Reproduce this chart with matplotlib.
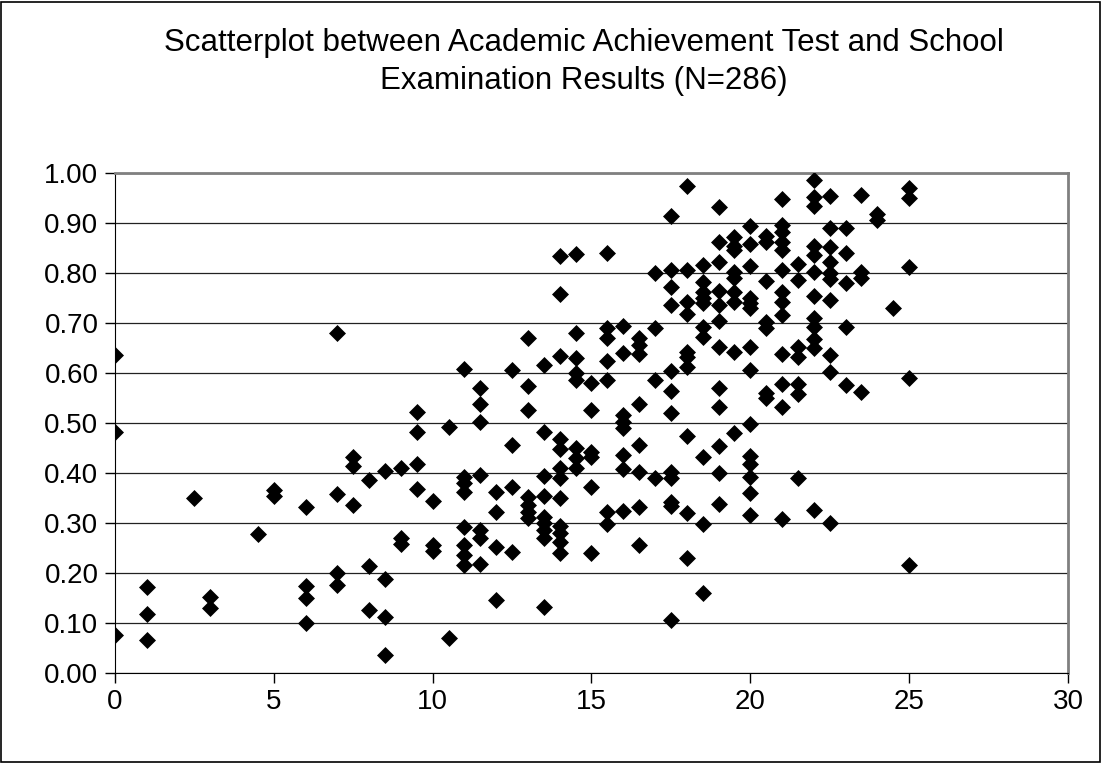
import matplotlib.pyplot as plt
from matplotlib.patches import Rectangle

# academic achievement test score (x) and school examination result (y)
test_scores = [
    0, 0, 0,
    1, 1, 1,
    2.5,
    3, 3,
    4.5,
    5, 5,
    6, 6, 6, 6,
    7, 7, 7, 7,
    7.5, 7.5, 7.5,
    8, 8, 8,
    8.5, 8.5, 8.5, 8.5,
    9, 9, 9,
    9.5, 9.5, 9.5, 9.5,
    10, 10, 10,
    10.5, 10.5,
    11, 11, 11, 11, 11, 11, 11, 11,
    11.5, 11.5, 11.5, 11.5, 11.5, 11.5, 11.5,
    12, 12, 12, 12,
    12.5, 12.5, 12.5, 12.5,
    13, 13, 13, 13, 13, 13, 13,
    13.5, 13.5, 13.5, 13.5, 13.5, 13.5, 13.5, 13.5, 13.5,
    14, 14, 14, 14, 14, 14, 14, 14, 14, 14, 14, 14,
    14.5, 14.5, 14.5, 14.5, 14.5, 14.5, 14.5, 14.5,
    15, 15, 15, 15, 15, 15,
    15.5, 15.5, 15.5, 15.5, 15.5, 15.5, 15.5,
    16, 16, 16, 16, 16, 16, 16, 16,
    16.5, 16.5, 16.5, 16.5, 16.5, 16.5, 16.5, 16.5,
    17, 17, 17, 17,
    17.5, 17.5, 17.5, 17.5, 17.5, 17.5, 17.5, 17.5, 17.5, 17.5, 17.5, 17.5,
    18, 18, 18, 18, 18, 18, 18, 18, 18, 18,
    18.5, 18.5, 18.5, 18.5, 18.5, 18.5, 18.5, 18.5, 18.5, 18.5,
    19, 19, 19, 19, 19, 19, 19, 19, 19, 19, 19, 19,
    19.5, 19.5, 19.5, 19.5, 19.5, 19.5, 19.5, 19.5, 19.5,
    20, 20, 20, 20, 20, 20, 20, 20, 20, 20, 20, 20, 20, 20,
    20.5, 20.5, 20.5, 20.5, 20.5, 20.5, 20.5,
    21, 21, 21, 21, 21, 21, 21, 21, 21, 21, 21, 21, 21,
    21.5, 21.5, 21.5, 21.5, 21.5, 21.5, 21.5,
    22, 22, 22, 22, 22, 22, 22, 22, 22, 22, 22, 22,
    22.5, 22.5, 22.5, 22.5, 22.5, 22.5, 22.5, 22.5, 22.5, 22.5,
    23, 23, 23, 23, 23,
    23.5, 23.5, 23.5, 23.5,
    24, 24,
    24.5,
    25, 25, 25, 25, 25,
]

exam_results = [
    0.635, 0.482, 0.075,
    0.172, 0.117, 0.065,
    0.349,
    0.152, 0.129,
    0.277,
    0.365, 0.353,
    0.332, 0.173, 0.150, 0.100,
    0.680, 0.357, 0.199, 0.175,
    0.431, 0.413, 0.335,
    0.385, 0.214, 0.125,
    0.404, 0.187, 0.112, 0.035,
    0.410, 0.270, 0.257,
    0.522, 0.482, 0.417, 0.367,
    0.344, 0.255, 0.243,
    0.492, 0.069,
    0.607, 0.392, 0.379, 0.362, 0.292, 0.255, 0.235, 0.215,
    0.569, 0.537, 0.501, 0.395, 0.285, 0.269, 0.217,
    0.362, 0.322, 0.252, 0.145,
    0.606, 0.455, 0.372, 0.242,
    0.670, 0.573, 0.525, 0.352, 0.335, 0.322, 0.310,
    0.615, 0.482, 0.394, 0.354, 0.312, 0.299, 0.285, 0.269, 0.132,
    0.833, 0.757, 0.634, 0.467, 0.448, 0.410, 0.389, 0.349, 0.294, 0.279, 0.262, 0.239,
    0.837, 0.680, 0.629, 0.599, 0.585, 0.450, 0.430, 0.410,
    0.579, 0.525, 0.442, 0.432, 0.372, 0.239,
    0.840, 0.690, 0.669, 0.623, 0.585, 0.322, 0.297,
    0.694, 0.639, 0.515, 0.502, 0.489, 0.435, 0.407, 0.323,
    0.670, 0.655, 0.637, 0.537, 0.455, 0.401, 0.332, 0.255,
    0.799, 0.690, 0.585, 0.389,
    0.913, 0.805, 0.772, 0.735, 0.603, 0.563, 0.519, 0.401, 0.389, 0.342, 0.334, 0.105,
    0.974, 0.805, 0.742, 0.717, 0.642, 0.632, 0.612, 0.474, 0.319, 0.230,
    0.815, 0.782, 0.762, 0.749, 0.739, 0.692, 0.672, 0.431, 0.297, 0.160,
    0.932, 0.861, 0.822, 0.763, 0.735, 0.703, 0.652, 0.569, 0.532, 0.453, 0.399, 0.337,
    0.872, 0.854, 0.845, 0.801, 0.790, 0.762, 0.741, 0.642, 0.479,
    0.893, 0.857, 0.813, 0.749, 0.739, 0.729, 0.652, 0.605, 0.497, 0.433, 0.418, 0.391, 0.359, 0.315,
    0.874, 0.862, 0.783, 0.702, 0.689, 0.560, 0.549,
    0.947, 0.895, 0.882, 0.862, 0.845, 0.805, 0.762, 0.741, 0.715, 0.637, 0.578, 0.532, 0.307,
    0.817, 0.785, 0.652, 0.632, 0.578, 0.557, 0.389,
    0.985, 0.951, 0.934, 0.854, 0.835, 0.801, 0.754, 0.709, 0.692, 0.667, 0.649, 0.325,
    0.953, 0.889, 0.852, 0.822, 0.799, 0.788, 0.745, 0.635, 0.601, 0.299,
    0.889, 0.839, 0.779, 0.691, 0.575,
    0.955, 0.801, 0.789, 0.561,
    0.917, 0.905,
    0.729,
    0.970, 0.949, 0.812, 0.589, 0.215,
]

x_ticks = [0, 5, 10, 15, 20, 25, 30]
y_ticks = [0.0, 0.1, 0.2, 0.3, 0.4, 0.5, 0.6, 0.7, 0.8, 0.9, 1.0]
title = "Scatterplot between Academic Achievement Test and School\nExamination Results (N=286)"

plt.rcParams['font.family'] = ['Liberation Sans', 'DejaVu Sans']

fig = plt.figure(figsize=(11.02, 7.63), dpi=100)
# chart area border
fig.patches.append(Rectangle((0.001, 0.001), 0.997, 0.997, transform=fig.transFigure,
                             fill=False, edgecolor='black', linewidth=1.2))

ax = fig.add_axes([0.1044, 0.1183, 0.8647, 0.6554])
ax.scatter(test_scores, exam_results, marker='D', s=75, color='black', zorder=3, linewidths=0)

ax.set_xlim(0, 30)
ax.set_ylim(0, 1.0)
ax.set_xticks(x_ticks)
ax.set_yticks(y_ticks)
ax.set_yticklabels([f"{v:.2f}" for v in y_ticks])
ax.tick_params(axis='both', direction='out', length=7, width=1, labelsize=20, colors='black')
ax.tick_params(axis='y', pad=5)
ax.tick_params(axis='x', pad=5)

ax.yaxis.grid(True, color='#222222', linewidth=0.9)
ax.set_axisbelow(True)

ax.spines['left'].set_color('black')
ax.spines['bottom'].set_color('black')
ax.spines['top'].set_color('#808080')
ax.spines['right'].set_color('#808080')
ax.spines['top'].set_linewidth(2)
ax.spines['right'].set_linewidth(2)

fig.text(0.53, 0.919, title, ha='center', va='center', fontsize=22.5, linespacing=1.35)

fig.savefig('out.png', dpi=100)
